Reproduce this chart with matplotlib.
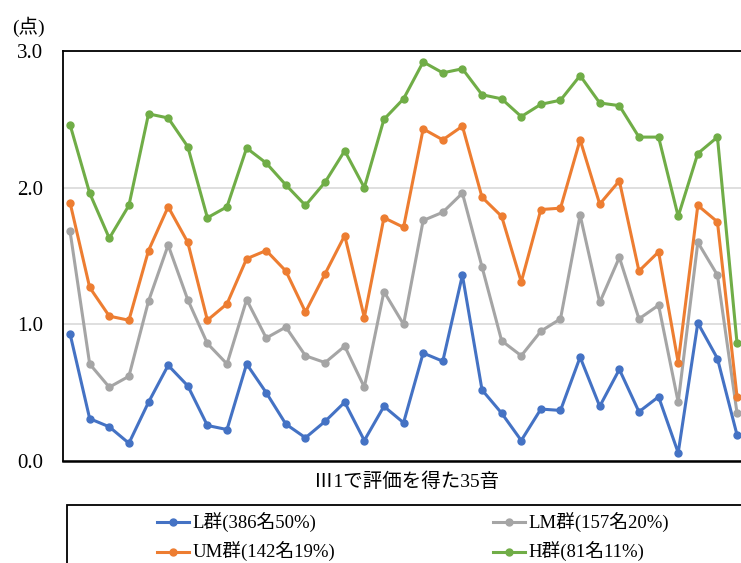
import matplotlib.pyplot as plt
from matplotlib.patches import Rectangle

plt.rcParams['font.family'] = ['Liberation Serif', 'Noto Sans CJK JP']

# average score per group for each of the 35 sounds
sounds = list(range(1, 36))

l_scores = [0.93, 0.31, 0.25, 0.13, 0.43, 0.70, 0.55, 0.26, 0.23, 0.71,
            0.50, 0.27, 0.17, 0.29, 0.43, 0.15, 0.40, 0.28, 0.79, 0.73,
            1.36, 0.52, 0.35, 0.15, 0.38, 0.37, 0.76, 0.40, 0.67, 0.36,
            0.47, 0.06, 1.01, 0.75, 0.19]
lm_scores = [1.68, 0.71, 0.54, 0.62, 1.17, 1.58, 1.18, 0.86, 0.71, 1.18,
             0.90, 0.98, 0.77, 0.72, 0.84, 0.54, 1.24, 1.00, 1.76, 1.82,
             1.96, 1.42, 0.88, 0.77, 0.95, 1.04, 1.80, 1.16, 1.49, 1.04,
             1.14, 0.43, 1.60, 1.36, 0.35]
um_scores = [1.89, 1.27, 1.06, 1.03, 1.54, 1.86, 1.60, 1.03, 1.15, 1.48,
             1.54, 1.39, 1.09, 1.37, 1.65, 1.05, 1.78, 1.71, 2.43, 2.35,
             2.45, 1.93, 1.79, 1.31, 1.84, 1.85, 2.35, 1.88, 2.05, 1.39,
             1.53, 0.72, 1.87, 1.75, 0.47]
h_scores = [2.46, 1.96, 1.63, 1.87, 2.54, 2.51, 2.30, 1.78, 1.86, 2.29,
            2.18, 2.02, 1.87, 2.04, 2.27, 2.00, 2.50, 2.65, 2.92, 2.84,
            2.87, 2.68, 2.65, 2.52, 2.61, 2.64, 2.82, 2.62, 2.60, 2.37,
            2.37, 1.79, 2.25, 2.37, 0.86]

series = [
    ('L群(386名50%)', l_scores, '#4472C4'),
    ('LM群(157名20%)', lm_scores, '#A5A5A5'),
    ('UM群(142名19%)', um_scores, '#ED7D31'),
    ('H群(81名11%)', h_scores, '#70AD47'),
]

fig = plt.figure(figsize=(7.41, 5.63), dpi=100)
ax = fig.add_axes([63 / 741, 1 - 461 / 563, 687 / 741, 410 / 563])

x = list(range(len(sounds)))
handles = []
for label, vals, color in series:
    h, = ax.plot(x, vals, color=color, linewidth=2.2, marker='o',
                 markersize=5, label=label, clip_on=False, zorder=3)
    handles.append(h)

ax.set_xlim(-0.36, 34.66)
ax.set_ylim(0, 3.0)
ax.set_yticks([0, 1.0, 2.0, 3.0])
ax.set_yticklabels(['0.0', '1.0', '2.0', '3.0'])
ax.set_xticks([])
ax.tick_params(axis='y', length=0, pad=14, labelsize=15)
ax.grid(axis='y', color='#D9D9D9', linewidth=1.2)
ax.set_axisbelow(True)

for side in ['left', 'top', 'right']:
    ax.spines[side].set_color('black')
    ax.spines[side].set_linewidth(1.3)
ax.spines['bottom'].set_color('black')
ax.spines['bottom'].set_linewidth(1.8)

ax.set_xlabel('Ⅲ1で評価を得た35音', fontsize=14, labelpad=8)
fig.text(12 / 741, 1 - 27 / 563, '(点)', fontsize=14, va='center', ha='left')

# legend box runs off the bottom and right edges
fig.patches.append(Rectangle((67 / 741, -0.2), 1.0, 1 - 505 / 563 + 0.2,
                             transform=fig.transFigure, fill=False,
                             edgecolor='black', linewidth=1.3))
# column-first order: L, UM in the left column, LM, H in the right
order = [0, 2, 1, 3]
fig.legend(handles=[handles[i] for i in order],
           labels=[series[i][0] for i in order],
           loc='upper left', bbox_to_anchor=(140 / 741, 1 - 496 / 563),
           ncol=2, frameon=False, fontsize=13.5, handlelength=1.7,
           handletextpad=0.2, columnspacing=8.4, labelspacing=0.5)

fig.savefig('out.png', dpi=100)
